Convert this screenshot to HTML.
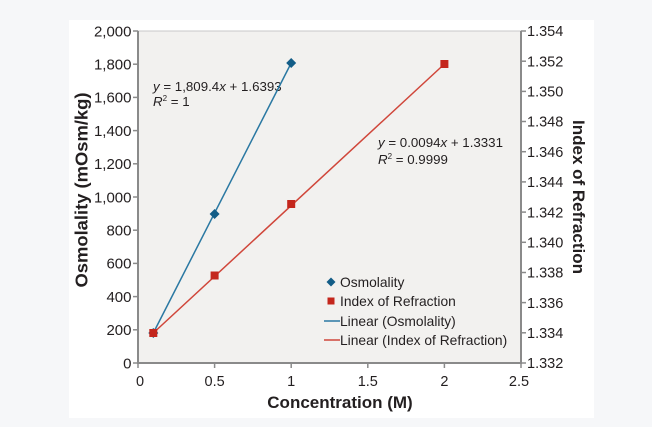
<!DOCTYPE html>
<html><head><meta charset="utf-8">
<style>
html,body{margin:0;padding:0;}
body{width:652px;height:427px;background:#f6f7f9;position:relative;overflow:hidden;font-family:"Liberation Sans",sans-serif;}
svg{position:absolute;left:0;top:0;}
</style></head>
<body>
<svg width="652" height="427" viewBox="0 0 652 427" xmlns="http://www.w3.org/2000/svg">
  <rect x="69" y="20" width="525" height="398" fill="#ffffff"/>
  <!-- plot area -->
  <rect x="138" y="31" width="383" height="332" fill="#f2f1ef" stroke="#c8c8c8" stroke-width="1"/>
  <!-- axes -->
  <line x1="138" y1="31" x2="138" y2="364" stroke="#8a8a8a" stroke-width="2"/>
  <line x1="521" y1="31" x2="521" y2="364" stroke="#8a8a8a" stroke-width="2"/>
  <line x1="137" y1="363" x2="522" y2="363" stroke="#8a8a8a" stroke-width="2"/>
  <!-- left ticks -->
  <g stroke="#8a8a8a" stroke-width="1.5">
    <line x1="133" y1="31" x2="138" y2="31"/>
    <line x1="133" y1="64.2" x2="138" y2="64.2"/>
    <line x1="133" y1="97.4" x2="138" y2="97.4"/>
    <line x1="133" y1="130.6" x2="138" y2="130.6"/>
    <line x1="133" y1="163.8" x2="138" y2="163.8"/>
    <line x1="133" y1="197" x2="138" y2="197"/>
    <line x1="133" y1="230.2" x2="138" y2="230.2"/>
    <line x1="133" y1="263.4" x2="138" y2="263.4"/>
    <line x1="133" y1="296.6" x2="138" y2="296.6"/>
    <line x1="133" y1="329.8" x2="138" y2="329.8"/>
    <line x1="133" y1="363" x2="138" y2="363"/>
    <!-- right ticks -->
    <line x1="521" y1="31" x2="526" y2="31"/>
    <line x1="521" y1="61.2" x2="526" y2="61.2"/>
    <line x1="521" y1="91.4" x2="526" y2="91.4"/>
    <line x1="521" y1="121.5" x2="526" y2="121.5"/>
    <line x1="521" y1="151.7" x2="526" y2="151.7"/>
    <line x1="521" y1="181.9" x2="526" y2="181.9"/>
    <line x1="521" y1="212.1" x2="526" y2="212.1"/>
    <line x1="521" y1="242.3" x2="526" y2="242.3"/>
    <line x1="521" y1="272.5" x2="526" y2="272.5"/>
    <line x1="521" y1="302.6" x2="526" y2="302.6"/>
    <line x1="521" y1="332.8" x2="526" y2="332.8"/>
    <line x1="521" y1="363" x2="526" y2="363"/>
    <!-- bottom ticks -->
    <line x1="138" y1="363" x2="138" y2="368"/>
    <line x1="214.6" y1="363" x2="214.6" y2="368"/>
    <line x1="291.2" y1="363" x2="291.2" y2="368"/>
    <line x1="367.8" y1="363" x2="367.8" y2="368"/>
    <line x1="444.4" y1="363" x2="444.4" y2="368"/>
    <line x1="521" y1="363" x2="521" y2="368"/>
  </g>
  <!-- left labels -->
  <g font-size="15" fill="#231f20" text-anchor="end">
    <text x="131.5" y="36.3">2,000</text>
    <text x="131.5" y="69.5">1,800</text>
    <text x="131.5" y="102.7">1,600</text>
    <text x="131.5" y="135.9">1,400</text>
    <text x="131.5" y="169.1">1,200</text>
    <text x="131.5" y="202.3">1,000</text>
    <text x="131.5" y="235.5">800</text>
    <text x="131.5" y="268.7">600</text>
    <text x="131.5" y="301.9">400</text>
    <text x="131.5" y="335.1">200</text>
    <text x="131.5" y="368.3">0</text>
  </g>
  <!-- right labels -->
  <g font-size="14.5" fill="#231f20" text-anchor="start">
    <text x="527" y="36.2">1.354</text>
    <text x="527" y="66.4">1.352</text>
    <text x="527" y="96.6">1.350</text>
    <text x="527" y="126.7">1.348</text>
    <text x="527" y="156.9">1.346</text>
    <text x="527" y="187.1">1.344</text>
    <text x="527" y="217.3">1.342</text>
    <text x="527" y="247.5">1.340</text>
    <text x="527" y="277.7">1.338</text>
    <text x="527" y="307.8">1.336</text>
    <text x="527" y="338">1.334</text>
    <text x="527" y="368.2">1.332</text>
  </g>
  <!-- bottom labels -->
  <g font-size="14.5" fill="#231f20" text-anchor="middle">
    <text x="140" y="386">0</text>
    <text x="214.6" y="386">0.5</text>
    <text x="291.2" y="386">1</text>
    <text x="367.8" y="386">1.5</text>
    <text x="444.4" y="386">2</text>
    <text x="519" y="386">2.5</text>
  </g>
  <!-- axis titles -->
  <text x="340" y="408" font-size="17" font-weight="bold" fill="#231f20" text-anchor="middle">Concentration (M)</text>
  <text transform="translate(87.5,190) rotate(-90)" font-size="17.5" font-weight="bold" fill="#231f20" text-anchor="middle" textLength="195" lengthAdjust="spacingAndGlyphs">Osmolality (mOsm/kg)</text>
  <text transform="translate(573,197) rotate(90)" font-size="17" font-weight="bold" fill="#231f20" text-anchor="middle">Index of Refraction</text>
  <!-- equations -->
  <g font-size="13.3" fill="#231f20">
    <text x="153" y="91"><tspan font-style="italic">y</tspan> = 1,809.4<tspan font-style="italic">x</tspan> + 1.6393</text>
    <text x="153" y="106"><tspan font-style="italic">R</tspan><tspan font-size="8" dy="-5">2</tspan><tspan dy="5"> = 1</tspan></text>
    <text x="378" y="147"><tspan font-style="italic">y</tspan> = 0.0094<tspan font-style="italic">x</tspan> + 1.3331</text>
    <text x="378" y="164"><tspan font-style="italic">R</tspan><tspan font-size="8" dy="-5">2</tspan><tspan dy="5"> = 0.9999</tspan></text>
  </g>
  <!-- lines -->
  <line x1="153.3" y1="333" x2="291.2" y2="63" stroke="#2a78a2" stroke-width="1.5"/>
  <line x1="153.3" y1="333" x2="444.4" y2="64" stroke="#d0463a" stroke-width="1.5"/>
  <!-- osmolality markers -->
  <g fill="#135d87">
    <polygon points="153.3,328 158.3,333 153.3,338 148.3,333"/>
    <polygon points="214.6,209 219.6,214 214.6,219 209.6,214"/>
    <polygon points="291.2,58 296.2,63 291.2,68 286.2,63"/>
  </g>
  <!-- refraction markers -->
  <g fill="#c4261c">
    <rect x="149.3" y="329" width="8" height="8"/>
    <rect x="210.6" y="271.5" width="8" height="8"/>
    <rect x="287.2" y="200" width="8" height="8"/>
    <rect x="440.4" y="60" width="8" height="8"/>
  </g>
  <!-- legend -->
  <polygon points="331,277.5 335.5,282 331,286.5 326.5,282" fill="#135d87"/>
  <rect x="327.5" y="297.5" width="7" height="7" fill="#c4261c"/>
  <line x1="324" y1="321" x2="340" y2="321" stroke="#2a78a2" stroke-width="1.5"/>
  <line x1="324" y1="340" x2="340" y2="340" stroke="#d0463a" stroke-width="1.5"/>
  <g font-size="13.8" fill="#231f20">
    <text x="340" y="287">Osmolality</text>
    <text x="340" y="306">Index of Refraction</text>
    <text x="340" y="326">Linear (Osmolality)</text>
    <text x="340" y="345">Linear (Index of Refraction)</text>
  </g>
</svg>
</body></html>
